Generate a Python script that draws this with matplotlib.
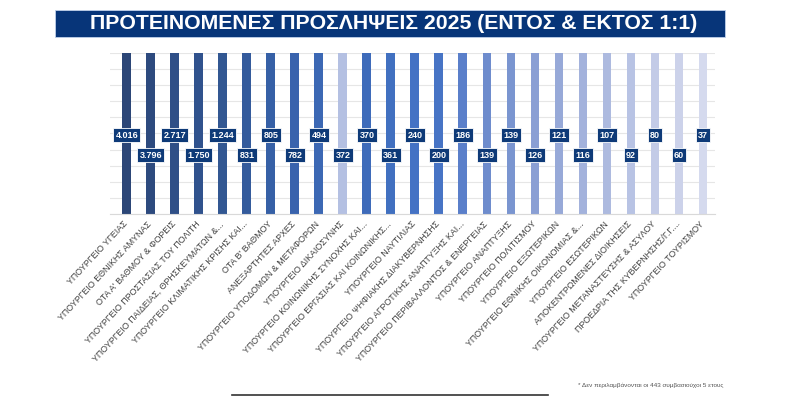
import matplotlib.pyplot as plt
import numpy as np

plt.rcParams['font.family'] = ['Liberation Sans', 'DejaVu Sans']

categories = [
    "ΥΠΟΥΡΓΕΙΟ ΥΓΕΙΑΣ",
    "ΥΠΟΥΡΓΕΙΟ ΕΘΝΙΚΗΣ ΑΜΥΝΑΣ",
    "ΟΤΑ Α' ΒΑΘΜΟΥ & ΦΟΡΕΙΣ",
    "ΥΠΟΥΡΓΕΙΟ ΠΡΟΣΤΑΣΙΑΣ ΤΟΥ ΠΟΛΙΤΗ",
    "ΥΠΟΥΡΓΕΙΟ ΠΑΙΔΕΙΑΣ, ΘΡΗΣΚΕΥΜΑΤΩΝ &...",
    "ΥΠΟΥΡΓΕΙΟ ΚΛΙΜΑΤΙΚΗΣ ΚΡΙΣΗΣ ΚΑΙ...",
    "ΟΤΑ Β' ΒΑΘΜΟΥ",
    "ΑΝΕΞΑΡΤΗΤΕΣ ΑΡΧΕΣ",
    "ΥΠΟΥΡΓΕΙΟ ΥΠΟΔΟΜΩΝ & ΜΕΤΑΦΟΡΩΝ",
    "ΥΠΟΥΡΓΕΙΟ ΔΙΚΑΙΟΣΥΝΗΣ",
    "ΥΠΟΥΡΓΕΙΟ ΚΟΙΝΩΝΙΚΗΣ ΣΥΝΟΧΗΣ ΚΑΙ...",
    "ΥΠΟΥΡΓΕΙΟ ΕΡΓΑΣΙΑΣ ΚΑΙ ΚΟΙΝΩΝΙΚΗΣ...",
    "ΥΠΟΥΡΓΕΙΟ ΝΑΥΤΙΛΙΑΣ",
    "ΥΠΟΥΡΓΕΙΟ ΨΗΦΙΑΚΗΣ ΔΙΑΚΥΒΕΡΝΗΣΗΣ",
    "ΥΠΟΥΡΓΕΙΟ ΑΓΡΟΤΙΚΗΣ ΑΝΑΠΤΥΞΗΣ ΚΑΙ...",
    "ΥΠΟΥΡΓΕΙΟ ΠΕΡΙΒΑΛΛΟΝΤΟΣ & ΕΝΕΡΓΕΙΑΣ",
    "ΥΠΟΥΡΓΕΙΟ ΑΝΑΠΤΥΞΗΣ",
    "ΥΠΟΥΡΓΕΙΟ ΠΟΛΙΤΙΣΜΟΥ",
    "ΥΠΟΥΡΓΕΙΟ ΕΞΩΤΕΡΙΚΩΝ",
    "ΥΠΟΥΡΓΕΙΟ ΕΘΝΙΚΗΣ ΟΙΚΟΝΟΜΙΑΣ &...",
    "ΥΠΟΥΡΓΕΙΟ ΕΣΩΤΕΡΙΚΩΝ",
    "ΑΠΟΚΕΝΤΡΩΜΕΝΕΣ ΔΙΟΙΚΗΣΕΙΣ",
    "ΥΠΟΥΡΓΕΙΟ ΜΕΤΑΝΑΣΤΕΥΣΗΣ & ΑΣΥΛΟΥ",
    "ΠΡΟΕΔΡΙΑ ΤΗΣ ΚΥΒΕΡΝΗΣΗΣ/Γ.Γ....",
    "ΥΠΟΥΡΓΕΙΟ ΤΟΥΡΙΣΜΟΥ",
]
values = [4016, 3796, 2717, 1750, 1244, 831, 805, 782, 494, 372, 370, 361,
          240, 200, 186, 139, 139, 126, 121, 116, 107, 92, 80, 60, 37]

colors = ["#2C4677", "#2D4A7E", "#2F4F87", "#30528D", "#325792", "#345B9C",
          "#3660A6", "#3963AD", "#3C68B4", "#B4C0E2", "#3E6BBA", "#4170C0",
          "#4472C4", "#4774C5", "#5A7FCA", "#6E8CCD", "#7A95D0", "#8A9FD4",
          "#97A9D8", "#A3B2DC", "#ADBADF", "#B8C3E4", "#C3CBE7", "#CCD2EA",
          "#D5DAEE"]

fig = plt.figure(figsize=(8, 3.96), dpi=100)
ax = fig.add_axes([0.1375, 0.4596, 0.7563, 0.4066])

x = np.arange(len(values))
ax.bar(x, values, width=0.37, color=colors, zorder=2)
ax.set_ylim(0, 30)
ax.set_xlim(-0.7, 24.5)
ax.set_yticks(np.arange(0, 31, 3))
ax.yaxis.grid(True, color="#E6E6E6", linewidth=0.8, zorder=0)
ax.tick_params(axis='y', length=0, labelleft=False)
for s in ['top', 'right', 'left']:
    ax.spines[s].set_visible(False)
ax.spines['bottom'].set_color("#D9D9D9")
ax.set_xticks(x - 0.15)
ax.set_xticklabels(categories, rotation=47, ha='right', rotation_mode='anchor',
                   fontsize=6.4, color="#404040")
ax.tick_params(axis='x', length=0, pad=4)

# data labels alternate between two heights
for i, v in enumerate(values):
    yf = 0.49 if i % 2 == 0 else 0.366
    txt = f"{v:,}".replace(",", ".")
    ax.text(i, yf, txt, transform=ax.get_xaxis_transform(), ha='center', va='center',
            fontsize=6.5, fontweight='bold', color='white', zorder=4,
            bbox=dict(boxstyle='square,pad=0.25', facecolor='#0E3A78',
                      edgecolor='white', linewidth=0.6))

# title banner
fig.patches.append(plt.Rectangle((55 / 800, 1 - 37 / 396), 670 / 800, 27 / 396,
                                 transform=fig.transFigure, facecolor='#073579',
                                 edgecolor='#BFD0EA', linewidth=0.6))
fig.text(0.4925, 1 - 23.5 / 396, "ΠΡΟΤΕΙΝΟΜΕΝΕΣ ΠΡΟΣΛΗΨΕΙΣ 2025 (ΕΝΤΟΣ & ΕΚΤΟΣ 1:1)",
         ha='center', va='center', fontsize=15.3, fontweight='bold', color='white')

fig.text(0.904, 1 - 385 / 396, "* Δεν περιλαμβάνονται οι 443 συμβασιούχοι 5 ετους",
         ha='right', va='center', fontsize=4.6, color='#555555')

fig.lines.append(plt.Line2D([232 / 800, 548 / 800], [1 - 395 / 396, 1 - 395 / 396],
                            transform=fig.transFigure, color='#333333', linewidth=1.2))

fig.savefig('out.png', dpi=100)
